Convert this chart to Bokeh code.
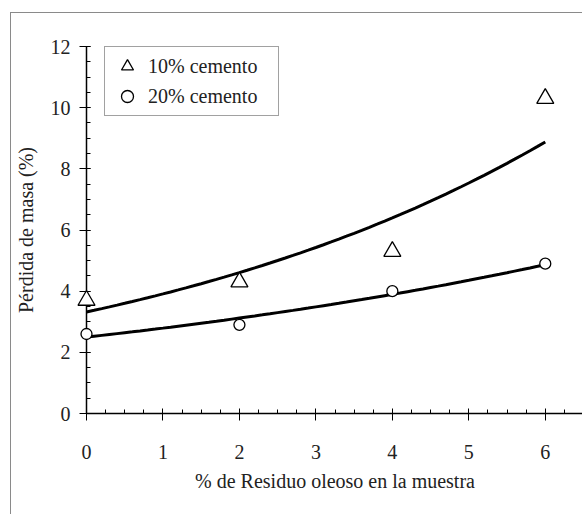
import numpy as np
from bokeh.plotting import figure
from bokeh.models import (ColumnDataSource, Legend, LegendItem, SingleIntervalTicker, Range1d)
from bokeh.embed import file_html
from bokeh.resources import INLINE

# ---- data ----
residuo = [0, 2, 4, 6]
cemento_10 = [3.7, 4.3, 5.3, 10.3]
cemento_20 = [2.6, 2.9, 4.0, 4.9]
label_10 = "10% cemento"
label_20 = "20% cemento"
x_title = "% de Residuo oleoso en la muestra"
y_title = "Pérdida de masa (%)"

# exponential trend lines fitted to the data (as in the original spreadsheet)
def exp_fit(x, y):
    b, ln_a = np.polyfit(np.asarray(x, float), np.log(np.asarray(y, float)), 1)
    xs = np.linspace(min(x), max(x), 61)
    return xs, np.exp(ln_a) * np.exp(b * xs)

fx10, fy10 = exp_fit(residuo, cemento_10)
fx20, fy20 = exp_fit(residuo, cemento_20)

FONT = "Liberation Serif"

p = figure(width=572, height=502, output_backend="svg", toolbar_location=None,
           x_range=Range1d(0, 6.5), y_range=Range1d(0, 12),
           min_border_left=75, min_border_top=33, min_border_bottom=102, min_border_right=0)
p.styles = {"border-top": "1px solid #8a8a8a", "border-left": "1px solid #8a8a8a",
            "margin-top": "12px", "margin-left": "10px"}
p.outline_line_color = None
p.grid.visible = False
p.background_fill_color = "white"
p.border_fill_color = "white"

# trend lines
p.line(fx10, fy10, line_color="black", line_width=3)
p.line(fx20, fy20, line_color="black", line_width=3)

src10 = ColumnDataSource(dict(x=residuo, y=cemento_10))
src20 = ColumnDataSource(dict(x=residuo, y=cemento_20))
r10 = p.scatter("x", "y", source=src10, marker="triangle", size=17, fill_color="white",
                line_color="black", line_width=1.3, level="overlay")
r20 = p.scatter("x", "y", source=src20, marker="circle", size=11, fill_color="white",
                line_color="black", line_width=1.3, level="overlay")

# axes
for ax in (p.xaxis[0], p.yaxis[0]):
    ax.axis_line_color = "black"
    ax.axis_line_width = 1.5
    ax.major_tick_line_color = "black"
    ax.minor_tick_line_color = "black"
    ax.major_tick_line_width = 1
    ax.minor_tick_line_width = 1
    ax.major_label_text_font = FONT
    ax.major_label_text_font_size = "20px"
    ax.major_label_text_color = "#222222"
    ax.axis_label_text_font = FONT
    ax.axis_label_text_font_size = "20px"
    ax.axis_label_text_font_style = "normal"
    ax.axis_label_text_color = "#222222"
    ax.minor_tick_in = 4
    ax.minor_tick_out = 0

p.xaxis.ticker = SingleIntervalTicker(interval=1, num_minor_ticks=4)
p.yaxis.ticker = SingleIntervalTicker(interval=2, num_minor_ticks=4)
p.xaxis.major_tick_in = 5
p.xaxis.major_tick_out = 7
p.yaxis.major_tick_in = 4
p.yaxis.major_tick_out = 7
p.xaxis.major_label_standoff = 24
p.yaxis.major_label_standoff = 9
p.xaxis.axis_label = x_title
p.yaxis.axis_label = y_title
p.xaxis.axis_label_standoff = 8
p.yaxis.axis_label_standoff = 11

legend = Legend(items=[LegendItem(label=label_10, renderers=[r10]),
                       LegendItem(label=label_20, renderers=[r20])],
                location=(18, 297), orientation="vertical",
                label_text_font=FONT, label_text_font_size="20px", label_text_color="#222222",
                padding=4, spacing=0, label_height=30, glyph_height=30, glyph_width=36,
                label_standoff=3, label_width=126,
                border_line_color="#444444", border_line_width=1,
                background_fill_color="white", background_fill_alpha=1.0)
p.add_layout(legend, "center")

open("out.html", "w").write(file_html(p, INLINE))
